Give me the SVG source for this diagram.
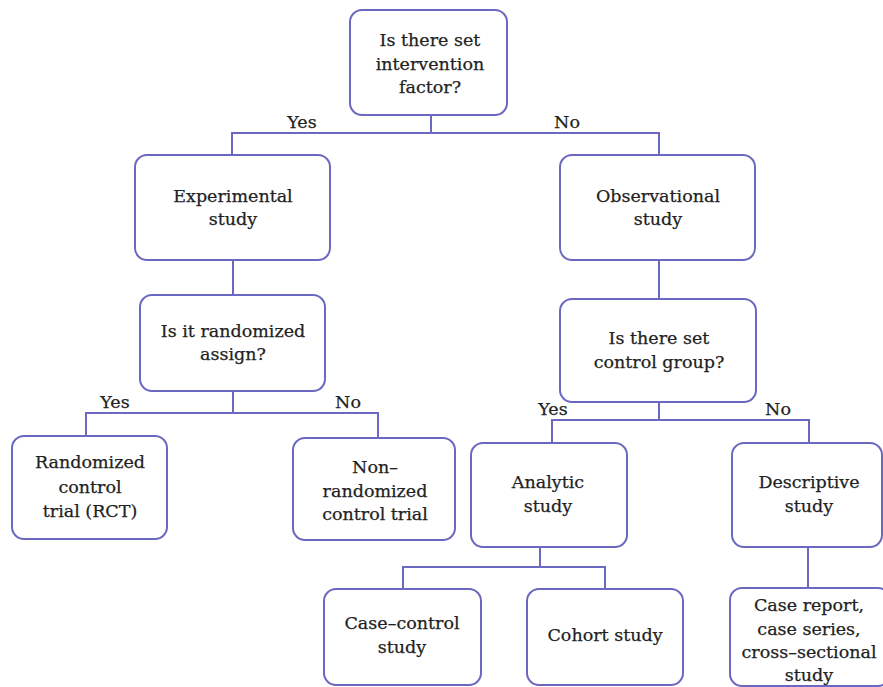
<svg xmlns="http://www.w3.org/2000/svg" width="883" height="687" viewBox="0 0 883 687">
<style>
.box{fill:#fff;stroke:#6a68c0;stroke-width:2}
.ln{fill:none;stroke:#6a68c0;stroke-width:2}
text{font-family:"DejaVu Serif","Liberation Serif",serif;font-size:17.5px;fill:#222;stroke:#222;stroke-width:0.25;text-anchor:middle}
</style>
<rect width="883" height="687" fill="#fff"/>
<g id="connectors">
<path class="ln" d="M431 115V133M232 155V133H659V155"/>
<path class="ln" d="M233 260V295"/>
<path class="ln" d="M659 260V299"/>
<path class="ln" d="M233 391V413M86 436V413H378V438"/>
<path class="ln" d="M659 402V420M552 443V420H809V443"/>
<path class="ln" d="M540 547V567M403 589V567H605V589"/>
<path class="ln" d="M808 547V588"/>
<text x="302" y="128">Yes</text>
<text x="567" y="128">No</text>
<text x="115" y="408">Yes</text>
<text x="348" y="408">No</text>
<text x="553" y="415">Yes</text>
<text x="778" y="415">No</text>
</g>
<g id="n-intervention">
<rect class="box" x="350" y="10" width="157" height="105" rx="12"/>
<text x="430" y="46">Is there set</text>
<text x="430" y="70">intervention</text>
<text x="430" y="93">factor?</text>
</g>
<g id="n-experimental">
<rect class="box" x="135" y="155" width="195" height="105" rx="12"/>
<text x="233" y="202">Experimental</text>
<text x="233" y="225">study</text>
</g>
<g id="n-observational">
<rect class="box" x="560" y="155" width="195" height="105" rx="12"/>
<text x="658" y="202">Observational</text>
<text x="658" y="225">study</text>
</g>
<g id="n-randomized">
<rect class="box" x="140" y="295" width="185" height="96" rx="12"/>
<text x="233" y="337">Is it randomized</text>
<text x="233" y="360">assign?</text>
</g>
<g id="n-controlgroup">
<rect class="box" x="560" y="299" width="196" height="103" rx="12"/>
<text x="659" y="344">Is there set</text>
<text x="659" y="368">control group?</text>
</g>
<g id="n-rct">
<rect class="box" x="12" y="436" width="155" height="103" rx="12"/>
<text x="90" y="468">Randomized</text>
<text x="90" y="493">control</text>
<text x="90" y="517">trial (RCT)</text>
</g>
<g id="n-nonrandomized">
<rect class="box" x="293" y="438" width="162" height="102" rx="12"/>
<text x="375" y="473">Non–</text>
<text x="375" y="497">randomized</text>
<text x="375" y="520">control trial</text>
</g>
<g id="n-analytic">
<rect class="box" x="471" y="443" width="156" height="104" rx="12"/>
<text x="548" y="488">Analytic</text>
<text x="548" y="512">study</text>
</g>
<g id="n-descriptive">
<rect class="box" x="732" y="443" width="150" height="104" rx="12"/>
<text x="809" y="488">Descriptive</text>
<text x="809" y="512">study</text>
</g>
<g id="n-casecontrol">
<rect class="box" x="324" y="589" width="157" height="96" rx="12"/>
<text x="402" y="629">Case–control</text>
<text x="402" y="653">study</text>
</g>
<g id="n-cohort">
<rect class="box" x="527" y="589" width="156" height="96" rx="12"/>
<text x="605" y="641">Cohort study</text>
</g>
<g id="n-casereport">
<rect class="box" x="730" y="588" width="160" height="98" rx="12"/>
<text x="809" y="611">Case report,</text>
<text x="809" y="635">case series,</text>
<text x="809" y="658">cross–sectional</text>
<text x="809" y="681">study</text>
</g>
</svg>
